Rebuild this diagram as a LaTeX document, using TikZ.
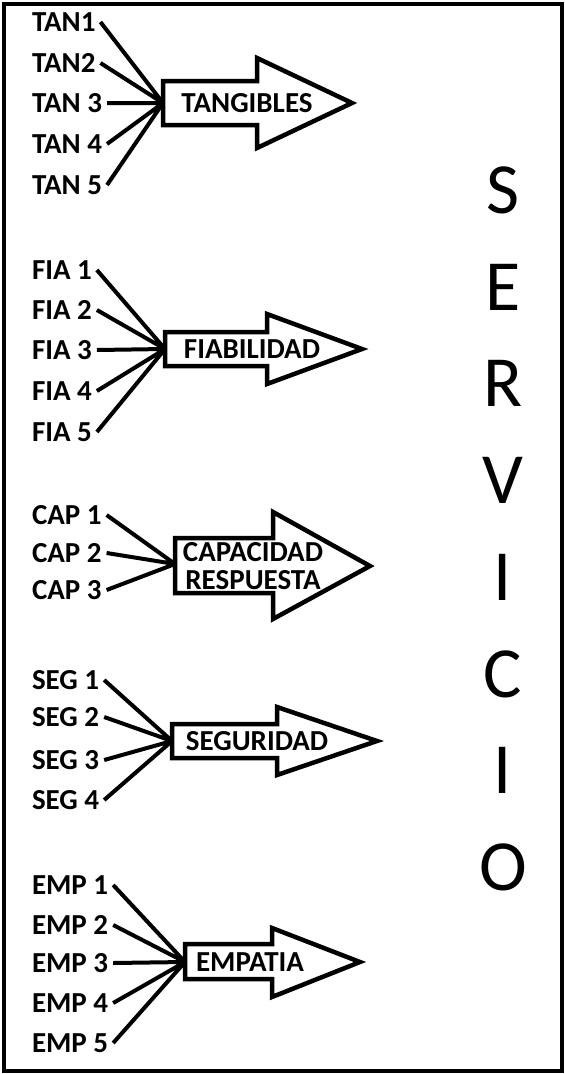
\documentclass[tikz,border=0pt]{standalone}
\usepackage{fontspec}
\setmainfont{Carlito}

\begin{document}
\begin{tikzpicture}[x=1pt,y=-1pt,line width=4pt,
    lbl/.style={anchor=west,inner xsep=3pt,inner ysep=1pt,font=\fontsize{29}{30}\selectfont\bfseries},
    dimname/.style={inner sep=0pt,align=center,font=\fontsize{29}{28}\selectfont\bfseries},
    blockarrow/.style={draw,line width=4.5pt,line join=miter,fill=white},
    letter/.style={anchor=base,inner sep=0pt,font=\fontsize{72}{72}\selectfont}]
    \useasboundingbox (0,0) rectangle (565,1074);
    \draw[line width=4.5pt] (4,4) rectangle (562,1071); % frame
    % tangibles
    \node[lbl] (tan1) at (27,22) {TAN1};
    \node[lbl] (tan2) at (27,63) {TAN2};
    \node[lbl] (tan3) at (27,103) {TAN 3};
    \node[lbl] (tan4) at (27,144) {TAN 4};
    \node[lbl] (tan5) at (27,185) {TAN 5};
    \draw[blockarrow] (163,81) -- (257,81) -- (257,58) -- (352,103) -- (257,148) -- (257,125) -- (163,125) -- cycle;
    \coordinate (tant) at (163,103);
    \node[dimname] (tang) at (247,103) {TANGIBLES};
    \draw (tan1.east) -- (tant) (tan2.east) -- (tant) (tan3.east) -- (tant)
          (tan4.east) -- (tant) (tan5.east) -- (tant);
    % fiabilidad
    \node[lbl] (fia1) at (27,270) {FIA 1};
    \node[lbl] (fia2) at (27,310) {FIA 2};
    \node[lbl] (fia3) at (27,350) {FIA 3};
    \node[lbl] (fia4) at (27,391) {FIA 4};
    \node[lbl] (fia5) at (27,432) {FIA 5};
    \draw[blockarrow] (165,332) -- (267,332) -- (267,314) -- (362,349) -- (267,384) -- (267,366) -- (165,366) -- cycle;
    \coordinate (fiat) at (165,349);
    \node[dimname] (fiab) at (252,349) {FIABILIDAD};
    \draw (fia1.east) -- (fiat) (fia2.east) -- (fiat) (fia3.east) -- (fiat)
          (fia4.east) -- (fiat) (fia5.east) -- (fiat);
    % capacidad de respuesta
    \node[lbl] (cap1) at (27,515) {CAP 1};
    \node[lbl] (cap2) at (27,553) {CAP 2};
    \node[lbl] (cap3) at (27,590) {CAP 3};
    \draw[blockarrow] (175,538) -- (273,538) -- (273,512) -- (370,566) -- (273,619) -- (273,593) -- (175,593) -- cycle;
    \coordinate (capt) at (175,564);
    \node[dimname] (capr) at (253,566) {CAPACIDAD\\RESPUESTA};
    \draw (cap1.east) -- (capt) (cap2.east) -- (capt) (cap3.east) -- (capt);
    % seguridad
    \node[lbl] (seg1) at (27,680) {SEG 1};
    \node[lbl] (seg2) at (27,717) {SEG 2};
    \node[lbl] (seg3) at (27,760) {SEG 3};
    \node[lbl] (seg4) at (27,800) {SEG 4};
    \draw[blockarrow] (172,724) -- (277,724) -- (277,707) -- (377,741) -- (277,775) -- (277,758) -- (172,758) -- cycle;
    \coordinate (segt) at (172,741);
    \node[dimname] (segu) at (257,741) {SEGURIDAD};
    \draw (seg1.east) -- (segt) (seg2.east) -- (segt) (seg3.east) -- (segt)
          (seg4.east) -- (segt);
    % empatia
    \node[lbl] (emp1) at (27,885) {EMP 1};
    \node[lbl] (emp2) at (27,925) {EMP 2};
    \node[lbl] (emp3) at (27,963) {EMP 3};
    \node[lbl] (emp4) at (27,1003) {EMP 4};
    \node[lbl] (emp5) at (27,1043) {EMP 5};
    \draw[blockarrow] (185,944) -- (272,944) -- (272,928) -- (360,962) -- (272,997) -- (272,979) -- (185,979) -- cycle;
    \coordinate (empt) at (185,962);
    \node[dimname] (empa) at (250,962) {EMPATIA};
    \draw (emp1.east) -- (empt) (emp2.east) -- (empt) (emp3.east) -- (empt)
          (emp4.east) -- (empt) (emp5.east) -- (empt);
    % servicio, one letter per line
    \node[letter] (srv1) at (503,213) {S};
    \node[letter] (srv2) at (503,310) {E};
    \node[letter] (srv3) at (503,406) {R};
    \node[letter] (srv4) at (503,503) {V};
    \node[letter] (srv5) at (503,600) {I};
    \node[letter] (srv6) at (503,697) {C};
    \node[letter] (srv7) at (503,793) {I};
    \node[letter] (srv8) at (503,890) {O};
\end{tikzpicture}
\end{document}
